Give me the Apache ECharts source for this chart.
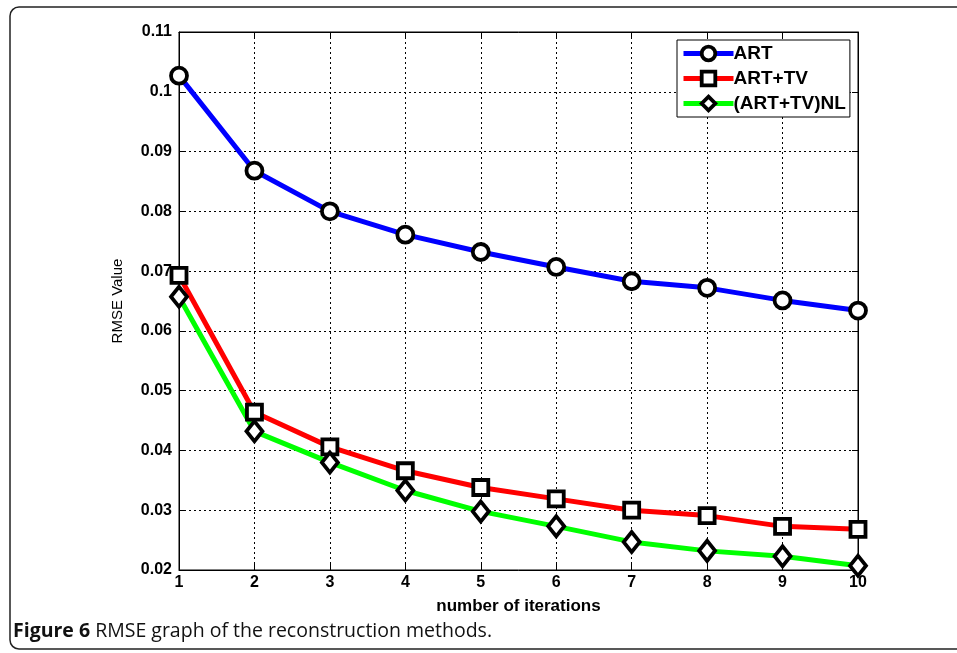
<!DOCTYPE html>
<html lang="en" style="height:100%">
<head>
    <meta charset="UTF-8">
    <title>RMSE graph</title>
    <script src="https://cdn.jsdelivr.net/npm/echarts@6/dist/echarts.min.js"></script>
</head>
<body style="height: 100%; margin: 0; background: #fff">
<div id="container" style="width: 957px; height: 653px"></div>
<script type="text/javascript">
    // iterations 1..10
    var iterations = [1, 2, 3, 4, 5, 6, 7, 8, 9, 10];
    var artValues = [0.1027, 0.0868, 0.0800, 0.0761, 0.0732, 0.0707, 0.0683, 0.0672, 0.0651, 0.0634];
    var artTvValues = [0.0693, 0.0464, 0.0406, 0.0366, 0.0338, 0.0319, 0.0300, 0.0291, 0.0273, 0.0268];
    var nlValues = [0.0657, 0.0432, 0.0380, 0.0333, 0.0298, 0.0273, 0.0247, 0.0232, 0.0223, 0.0207];
    var seriesNames = ['ART', 'ART+TV', '(ART+TV)NL'];

    var dom = document.getElementById("container");
    var myChart = echarts.init(dom);

    var pairs = function (ys) {
        var res = [];
        for (var i = 0; i < iterations.length; i++) {
            res.push([iterations[i], ys[i]]);
        }
        return res;
    };

    var tickFont = {
        color: '#000',
        fontFamily: 'Liberation Sans, Arial',
        fontWeight: 'bold',
        fontSize: 16
    };

    var mkSeries = function (name, ys, color, symbol, size) {
        return {
            name: name,
            type: 'line',
            data: pairs(ys),
            symbol: symbol,
            symbolSize: size,
            showAllSymbol: true,
            lineStyle: {color: color, width: 5},
            itemStyle: {color: '#fff', borderColor: '#000', borderWidth: 3.8},
            emphasis: {disabled: true},
            z: 3
        };
    };

    var option = {
        animation: false,
        backgroundColor: '#fff',
        grid: {
            left: 179, right: 99, top: 32, bottom: 83,
            show: true, borderColor: '#000', borderWidth: 1
        },
        legend: {
            orient: 'vertical',
            left: 677, top: 40,
            data: seriesNames,
            itemWidth: 50, itemHeight: 17,
            itemGap: 6,
            padding: [4, 4, 4, 4],
            backgroundColor: '#fff',
            borderColor: '#000',
            borderWidth: 1,
            lineStyle: {width: 5},
            itemStyle: {borderWidth: 3.8},
            textStyle: {
                color: '#000',
                fontFamily: 'Liberation Sans, Arial',
                fontWeight: 'bold',
                fontSize: 19,
                padding: [0, 0, 0, -5]
            }
        },
        xAxis: [{
            type: 'value',
            min: 1, max: 10, interval: 1,
            name: 'number of iterations',
            nameLocation: 'middle',
            nameGap: 28,
            nameTextStyle: Object.assign({}, tickFont, {fontSize: 17}),
            axisLine: {lineStyle: {color: '#000'}},
            axisTick: {inside: true, length: 6, lineStyle: {color: '#000'}},
            axisLabel: Object.assign({margin: 5}, tickFont),
            splitLine: {show: true, lineStyle: {color: '#000', type: [2, 3], width: 1}}
        }, {
            type: 'value', position: 'top',
            min: 1, max: 10, interval: 1,
            axisLine: {lineStyle: {color: '#000'}},
            axisTick: {inside: true, length: 6, lineStyle: {color: '#000'}},
            axisLabel: {show: false},
            splitLine: {show: false}
        }],
        yAxis: [{
            type: 'value',
            min: 0.02, max: 0.11, interval: 0.01,
            name: 'RMSE Value',
            nameLocation: 'middle',
            nameGap: 54,
            nameTextStyle: {
                color: '#000',
                fontFamily: 'Liberation Sans, Arial',
                fontSize: 15
            },
            axisLine: {lineStyle: {color: '#000'}},
            axisTick: {inside: true, length: 6, lineStyle: {color: '#000'}},
            axisLabel: Object.assign({
                margin: 7,
                formatter: function (v) { return String(parseFloat(v.toFixed(2))); }
            }, tickFont),
            splitLine: {show: true, lineStyle: {color: '#000', type: [2, 3], width: 1}}
        }, {
            type: 'value', position: 'right',
            min: 0.02, max: 0.11, interval: 0.01,
            axisLine: {lineStyle: {color: '#000'}},
            axisTick: {inside: true, length: 6, lineStyle: {color: '#000'}},
            axisLabel: {show: false},
            splitLine: {show: false}
        }],
        series: [
            mkSeries(seriesNames[0], artValues, '#0000ff', 'circle', 16),
            mkSeries(seriesNames[1], artTvValues, '#ff0000', 'rect', 15),
            mkSeries(seriesNames[2], nlValues, '#00ff00', 'diamond', [16, 20])
        ],
        graphic: [
            {
                type: 'rect',
                shape: {x: 10, y: 7, width: 980, height: 642, r: 9},
                style: {fill: null, stroke: '#222', lineWidth: 1.5},
                silent: true
            },
            {
                type: 'text',
                left: 13, top: 621,
                style: {
                    text: '{b|Figure 6} RMSE graph of the reconstruction methods.',
                    rich: {
                        b: {fontWeight: 'bold', fontSize: 19.5, fontFamily: 'Open Sans', fill: '#111'}
                    },
                    fontSize: 19.5,
                    fontFamily: 'Open Sans',
                    fill: '#111'
                }
            }
        ]
    };

    myChart.setOption(option, true);
</script>
</body>
</html>
